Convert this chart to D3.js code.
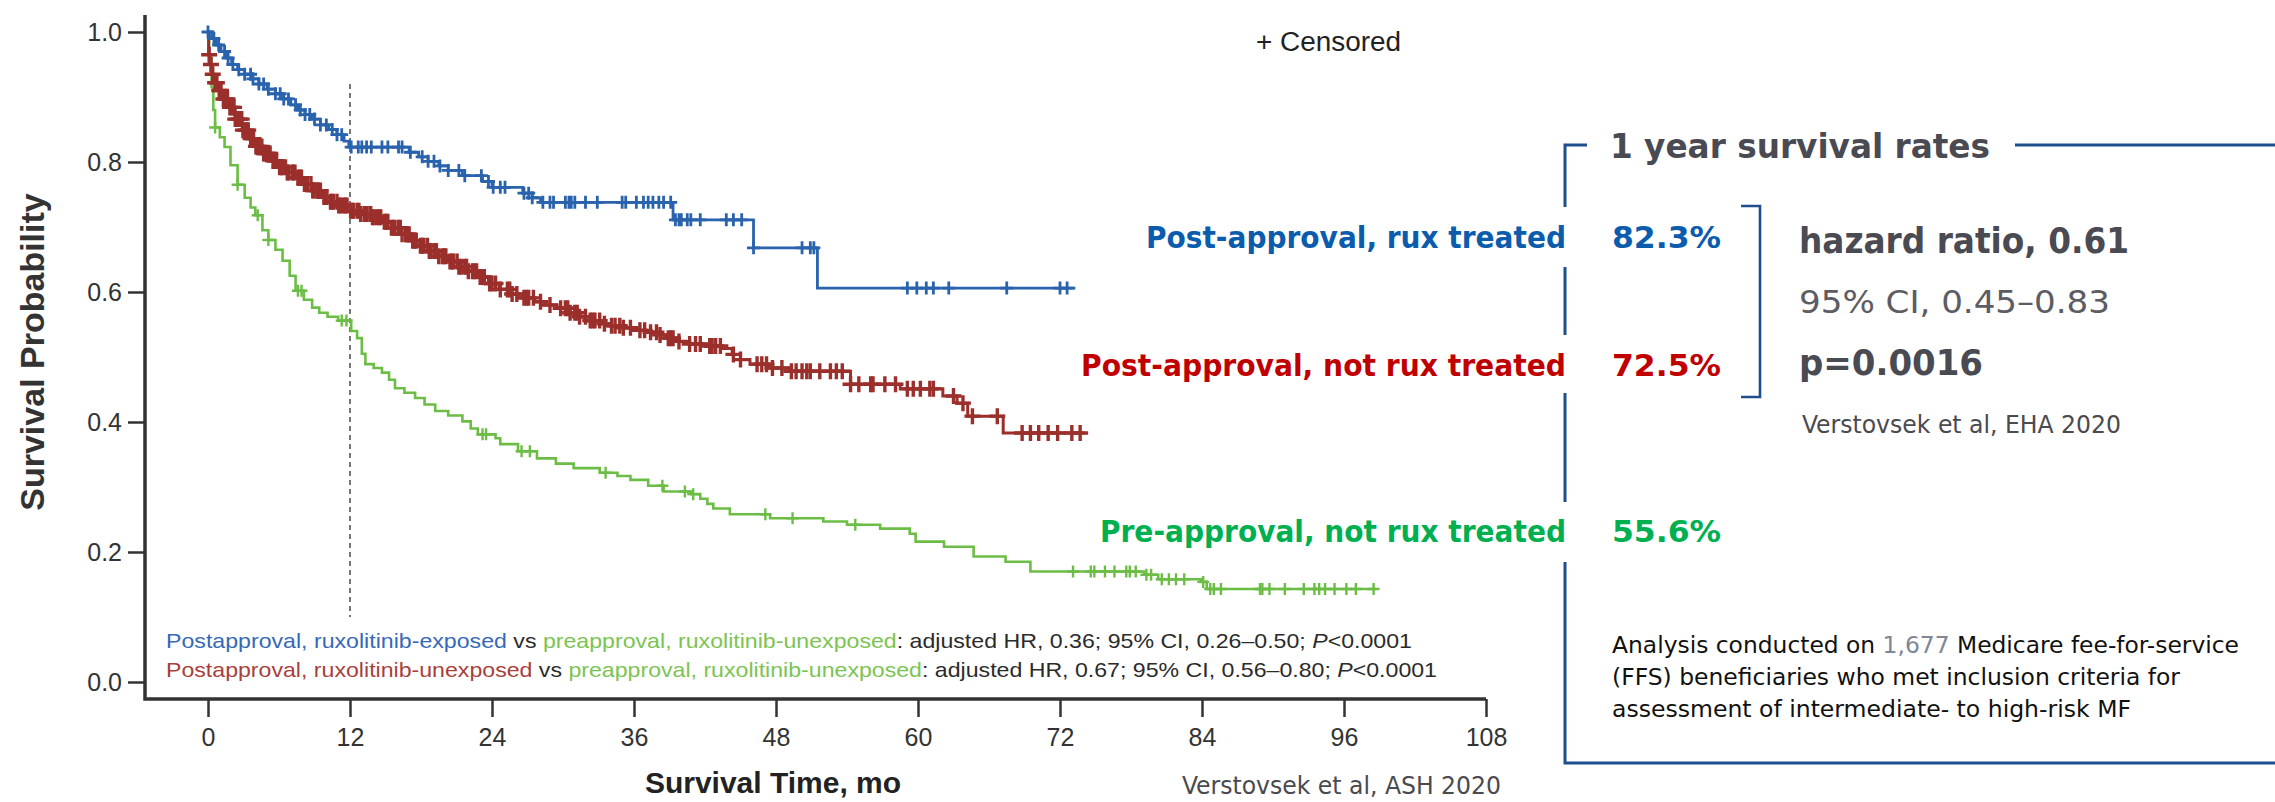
<!DOCTYPE html>
<html>
<head>
<meta charset="utf-8">
<script src="https://cdn.jsdelivr.net/npm/d3@7"></script>
<style>
  html, body { margin: 0; padding: 0; background: #ffffff; }
  svg { display: block; }
</style>
</head>
<body>
<svg id="chart" width="2275" height="802"></svg>
<script>
// ---- Kaplan–Meier data: [month, survival probability after the step] ----
const bluePostRux = [
  [0, 1.0], [0.3, 0.99], [0.7, 0.98], [1.1, 0.97], [1.6, 0.96], [2.0, 0.95], [2.5, 0.942],
  [3.1, 0.935], [3.7, 0.928], [4.3, 0.92], [5.0, 0.912], [5.7, 0.905], [6.3, 0.897], [7.0, 0.888],
  [7.6, 0.88], [8.2, 0.873], [8.8, 0.866], [9.5, 0.857], [10.2, 0.85], [10.9, 0.842], [11.5, 0.832],
  [11.9, 0.823], [17.0, 0.815], [17.8, 0.808], [18.6, 0.801], [19.5, 0.794], [20.3, 0.787],
  [21.5, 0.779], [23.2, 0.77], [24.0, 0.761], [26.6, 0.752], [27.4, 0.745], [28.1, 0.738],
  [39.3, 0.711], [46.1, 0.668], [51.5, 0.606]
];
const blueEnd = 73.3;
const blueCensored = [
  0.0, 0.5, 0.9, 1.4, 1.7, 2.1, 2.6, 3.1, 3.6, 3.8, 4.3, 4.7, 5.1, 5.7, 6.1, 6.4, 6.8, 7.4, 7.8,
  8.2, 8.6, 9.0, 9.5, 10.0, 10.5, 10.9, 11.3, 12.1, 12.7, 13.0, 13.4, 13.8, 14.7, 15.2, 16.1, 16.4,
  17.1, 18.1, 18.6, 19.1, 19.6, 20.3, 21.2, 21.7, 23.1, 23.7, 24.1, 24.7, 25.1, 26.7, 27.1, 27.4,
  28.3, 28.9, 29.2, 30.2, 30.5, 30.7, 31.0, 31.9, 32.9, 35.0, 35.3, 36.2, 36.8, 37.2, 37.6, 38.1,
  38.5, 39.1, 39.5, 39.8, 40.0, 40.5, 40.8, 41.6, 43.8, 44.4, 45.1, 46.1, 50.2, 50.9, 51.2,
  59.1, 59.9, 60.7, 61.3, 62.6, 67.5, 72.0, 72.6
];

const redPostNoRux = [
  [0, 1.0], [0.05, 0.965], [0.15, 0.95], [0.3, 0.935], [0.5, 0.922], [0.8, 0.91], [1.2, 0.897],
  [1.7, 0.884], [2.3, 0.866], [2.9, 0.849], [3.5, 0.836], [4.0, 0.824], [4.6, 0.813], [5.3, 0.802],
  [6.0, 0.792], [6.7, 0.784], [7.4, 0.776], [8.1, 0.766], [8.8, 0.756], [9.6, 0.746], [10.3, 0.739],
  [11.0, 0.733], [12.0, 0.725], [12.9, 0.72], [13.8, 0.715], [14.7, 0.708], [15.5, 0.699],
  [16.3, 0.689], [17.2, 0.679], [17.9, 0.671], [18.7, 0.663], [19.5, 0.655], [20.3, 0.647],
  [21.1, 0.639], [21.9, 0.632], [22.8, 0.623], [23.7, 0.613], [24.6, 0.604], [25.6, 0.597],
  [26.6, 0.591], [27.6, 0.585], [28.5, 0.58], [29.5, 0.575], [30.5, 0.568], [31.4, 0.562],
  [32.3, 0.556], [33.2, 0.551], [34.1, 0.548], [35.1, 0.545], [36.1, 0.541], [37.0, 0.538],
  [38.0, 0.534], [38.9, 0.529], [39.8, 0.524], [40.7, 0.52], [42.0, 0.517], [43.5, 0.513],
  [44.3, 0.504], [45.0, 0.496], [45.8, 0.489], [47.4, 0.483], [49.2, 0.478], [54.3, 0.458],
  [58.5, 0.451], [62.1, 0.44], [63.3, 0.429], [64.2, 0.409], [67.2, 0.383]
];
const redEnd = 74.1;
const redCensored = [
  0.1, 0.25, 0.4, 0.6, 0.75, 0.95, 1.1, 1.3, 1.5, 1.65, 1.85, 2.05, 2.2, 2.3, 2.5, 2.7, 2.85,
  2.95, 3.15, 3.3, 3.4, 3.6, 3.75, 3.85, 4.05, 4.2, 4.3, 4.55, 4.7, 4.8, 5.0, 5.15, 5.25, 5.5,
  5.65, 5.8, 6.05, 6.2, 6.3, 6.55, 6.7, 6.8, 7.1, 7.2, 7.35, 7.6, 7.75, 7.9, 8.15, 8.3, 8.4,
  8.7, 8.85, 8.95, 9.2, 9.35, 9.5, 9.8, 9.9, 10.05, 10.35, 10.5, 10.6, 10.9, 11.05, 11.2, 11.45,
  11.6, 11.75, 12.05, 12.2, 12.3, 12.6, 12.75, 12.9, 13.2, 13.3, 13.45, 13.75, 13.9, 14.05,
  14.3, 14.45, 14.6, 14.9, 15.05, 15.2, 15.5, 15.65, 15.8, 16.1, 16.25, 16.4, 16.7, 16.85,
  17.0, 17.3, 17.45, 17.6, 17.95, 18.1, 18.25, 18.55, 18.7, 18.85, 19.15, 19.3, 19.5, 19.8,
  19.95, 20.1, 20.45, 20.6, 20.75, 21.05, 21.2, 21.4, 21.7, 21.85, 22.0, 22.35, 22.5, 22.7,
  23.0, 23.15, 23.35, 23.8, 24.0, 24.3, 24.7, 25.3, 25.5, 25.7, 26.1, 26.7, 26.9, 27.1, 27.5,
  28.1, 28.9, 29.8, 30.2, 30.4, 30.6, 31.0, 31.2, 31.4, 31.9, 32.3, 32.5, 32.7, 33.1, 33.5,
  34.1, 34.4, 34.8, 35.1, 35.7, 36.5, 36.9, 37.4, 37.9, 38.2, 38.9, 39.1, 39.3, 39.8, 40.7,
  41.2, 41.6, 42.4, 42.6, 42.9, 43.3, 44.4, 45.0, 46.4, 46.8, 47.2, 47.7, 48.5, 49.3, 49.7,
  50.2, 50.6, 50.9, 51.7, 52.6, 53.1, 53.6, 54.3, 55.0, 56.0, 56.2, 57.2, 58.1, 59.1, 59.6,
  60.2, 61.0, 61.3, 63.0, 63.8, 64.6, 66.7, 68.8, 69.5, 70.2, 71.0, 71.8, 73.0, 73.7
];

const greenPreNoRux = [
  [0, 1.0], [0.1, 0.96], [0.3, 0.915], [0.45, 0.88], [0.6, 0.853], [1.0, 0.838], [1.4, 0.823],
  [1.9, 0.795], [2.5, 0.765], [3.1, 0.745], [3.6, 0.73], [4.0, 0.718], [4.6, 0.695], [5.1, 0.68],
  [5.7, 0.665], [6.3, 0.648], [6.9, 0.625], [7.4, 0.602], [8.1, 0.588], [8.8, 0.576], [9.4, 0.568],
  [10.1, 0.562], [11.0, 0.556], [12.1, 0.54], [12.6, 0.529], [13.0, 0.505], [13.3, 0.489],
  [14.0, 0.483], [14.7, 0.476], [15.3, 0.465], [15.8, 0.452], [16.6, 0.445], [17.5, 0.437],
  [18.3, 0.427], [19.2, 0.417], [20.3, 0.41], [21.5, 0.401], [22.2, 0.39], [22.8, 0.381],
  [24.3, 0.375], [24.7, 0.366], [26.2, 0.355], [27.8, 0.344], [29.4, 0.336], [30.9, 0.329],
  [33.1, 0.322], [34.6, 0.317], [35.7, 0.311], [37.2, 0.302], [38.5, 0.293], [40.8, 0.289],
  [41.6, 0.282], [42.2, 0.274], [42.7, 0.267], [44.1, 0.258], [47.5, 0.252], [52.0, 0.247],
  [54.0, 0.242], [56.8, 0.236], [59.3, 0.228], [59.8, 0.216], [62.2, 0.208], [64.7, 0.193],
  [67.4, 0.185], [69.5, 0.17], [79.1, 0.165], [80.3, 0.158], [83.9, 0.154], [84.4, 0.143]
];
const greenEnd = 98.7;
const greenCensored = [
  0.6, 2.5, 4.2, 5.1, 7.6, 7.9, 11.3, 11.7, 23.2, 23.5, 26.5, 27.2, 33.6, 38.4, 40.3, 41.0,
  47.1, 49.4, 54.7, 73.1, 74.6, 74.9, 75.8, 76.6, 77.6, 77.9, 78.4, 79.3, 79.7, 80.6, 81.2,
  81.8, 82.5, 84.1, 84.7, 85.0, 85.6, 88.9, 89.1, 89.7, 91.0, 92.6, 93.5, 93.9, 94.4, 95.2,
  96.2, 97.0, 98.5
];

// ---- Axis ticks ----
const monthTicks = [0, 12, 24, 36, 48, 60, 72, 84, 96, 108];
const probTicks = [0.0, 0.2, 0.4, 0.6, 0.8, 1.0];

// ---- Text content ----
const yTitle = "Survival Probability";
const xTitle = "Survival Time, mo";
const censorKey = "+ Censored";
const comparisonLines = [
  [["Postapproval, ruxolitinib-exposed", "blue"], [" vs ", "ink"], ["preapproval, ruxolitinib-unexposed", "green"],
   [": adjusted HR, 0.36; 95% CI, 0.26\u20130.50; ", "ink"], ["P", "inkItalic"], ["<0.0001", "ink"]],
  [["Postapproval, ruxolitinib-unexposed", "red"], [" vs ", "ink"], ["preapproval, ruxolitinib-unexposed", "green"],
   [": adjusted HR, 0.67; 95% CI, 0.56\u20130.80; ", "ink"], ["P", "inkItalic"], ["<0.0001", "ink"]]
];
const panelTitle = "1 year survival rates";
const groupNames = ["Post-approval, rux treated", "Post-approval, not rux treated", "Pre-approval, not rux treated"];
const oneYearRates = ["82.3%", "72.5%", "55.6%"];
const hrLines = ["hazard ratio, 0.61", "95% CI, 0.45\u20130.83", "p=0.0016"];
const ehaSource = "Verstovsek et al, EHA 2020";
const ashSource = "Verstovsek et al, ASH 2020";
const cohortNote = [
  [["Analysis conducted on ", "black"], ["1,677", "muted"], [" Medicare fee-for-service", "black"]],
  [["(FFS) beneficiaries who met inclusion criteria for", "black"]],
  [["assessment of intermediate- to high-risk MF", "black"]]
];

// ---- Styling ----
const colors = {
  blue: "#2a63ad", red: "#9b2f2b", green: "#6cbd45",
  legendBlue: "#3569b8", legendRed: "#a8403c", legendGreen: "#7cc452",
  ink: "#2b2b2b", axis: "#333333",
  labelBlue: "#0b5cad", labelRed: "#c00000", labelGreen: "#00b050",
  slate: "#4a4a52", slateLight: "#5c5c62", frame: "#1f4e8c", muted: "#7d8796"
};
const chartFont = "'Liberation Sans', Arial, sans-serif";
const panelFont = "'DejaVu Sans Condensed', 'DejaVu Sans', sans-serif";

const svg = d3.select("#chart");

// ---- Scales ----
const x = d3.scaleLinear().domain([0, 108]).range([208, 1486]);
const y = d3.scaleLinear().domain([0, 1]).range([682, 32]);
const axisLeftX = 145, axisBottomY = 699;

// ---- Axes ----
const gx = svg.append("g").attr("transform", `translate(0,${axisBottomY})`)
  .call(d3.axisBottom(x).tickValues(monthTicks).tickSize(18).tickSizeOuter(0).tickPadding(8));
gx.select(".domain").remove();
gx.selectAll(".tick line").attr("stroke", colors.axis).attr("stroke-width", 2.5);
gx.selectAll(".tick text").attr("font-family", chartFont).attr("font-size", 25)
  .attr("fill", colors.axis).attr("dy", "0.85em");

const gy = svg.append("g").attr("transform", `translate(${axisLeftX},0)`)
  .call(d3.axisLeft(y).tickValues(probTicks).tickFormat(d3.format(".1f")).tickSize(17).tickSizeOuter(0).tickPadding(6));
gy.select(".domain").remove();
gy.selectAll(".tick line").attr("stroke", colors.axis).attr("stroke-width", 2.5);
gy.selectAll(".tick text").attr("font-family", chartFont).attr("font-size", 25).attr("fill", colors.axis);

svg.append("path")
  .attr("d", `M${axisLeftX},15 V${axisBottomY} H${x(108)}`)
  .attr("fill", "none").attr("stroke", colors.axis).attr("stroke-width", 3.5);

// Axis titles
svg.append("text").attr("x", 773).attr("y", 793).attr("text-anchor", "middle")
  .attr("font-family", chartFont).attr("font-weight", "bold").attr("font-size", 30)
  .attr("fill", "#222").text(xTitle);
svg.append("text").attr("transform", "translate(44,352) rotate(-90)").attr("text-anchor", "middle")
  .attr("font-family", chartFont).attr("font-weight", "bold").attr("font-size", 34)
  .attr("fill", "#333").text(yTitle);

// One-year reference line
svg.append("line").attr("x1", x(12)).attr("x2", x(12)).attr("y1", y(0.92)).attr("y2", y(0.1))
  .attr("stroke", "#555").attr("stroke-width", 1.6).attr("stroke-dasharray", "5,4");

// ---- Survival curves ----
const stepLine = d3.line().x(d => x(d[0])).y(d => y(d[1])).curve(d3.curveStepAfter);
const survivalAt = (steps, t) => {
  const i = d3.bisector(d => d[0]).right(steps, t) - 1;
  return steps[Math.max(0, i)][1];
};
const series = [
  { steps: greenPreNoRux, end: greenEnd, censored: greenCensored, color: colors.green, arm: 6, line: 2.6, mark: 2.4 },
  { steps: redPostNoRux, end: redEnd, censored: redCensored, color: colors.red, arm: 8, line: 3, mark: 3.4 },
  { steps: bluePostRux, end: blueEnd, censored: blueCensored, color: colors.blue, arm: 6.5, line: 2.8, mark: 2.8 }
];
series.forEach(s => {
  const pts = s.steps.concat([[s.end, s.steps[s.steps.length - 1][1]]]);
  const g = svg.append("g");
  g.append("path").attr("d", stepLine(pts)).attr("fill", "none")
    .attr("stroke", s.color).attr("stroke-width", s.line).attr("stroke-linejoin", "miter");
  g.selectAll("path.cens").data(s.censored).join("path").attr("class", "cens")
    .attr("d", t => {
      const cx = x(t), cy = y(survivalAt(s.steps, t));
      return `M${cx - s.arm},${cy}H${cx + s.arm}M${cx},${cy - s.arm}V${cy + s.arm}`;
    })
    .attr("stroke", s.color).attr("stroke-width", s.mark).attr("fill", "none");
});

// Censor key
svg.append("text").attr("x", 1256).attr("y", 51).attr("font-family", chartFont)
  .attr("font-size", 27).attr("fill", "#222").attr("textLength", 145)
  .attr("lengthAdjust", "spacingAndGlyphs").text(censorKey);

// Comparison statements
const toneFill = { blue: colors.legendBlue, red: colors.legendRed, green: colors.legendGreen,
  ink: colors.ink, inkItalic: colors.ink };
const comparisonWidths = [1246, 1271];
comparisonLines.forEach((parts, i) => {
  const t = svg.append("text").attr("x", 166).attr("y", 648 + i * 29)
    .attr("font-family", chartFont).attr("font-size", 21);
  parts.forEach(([str, tone]) => {
    t.append("tspan").attr("fill", toneFill[tone])
      .attr("font-style", tone === "inkItalic" ? "italic" : null).text(str);
  });
  t.attr("textLength", comparisonWidths[i]).attr("lengthAdjust", "spacingAndGlyphs");
});

// Source of the plot
svg.append("text").attr("x", 1182).attr("y", 794).attr("font-family", panelFont)
  .attr("font-size", 24).attr("fill", "#4a4a4f").attr("textLength", 319)
  .attr("lengthAdjust", "spacingAndGlyphs").text(ashSource);

// ---- One-year summary panel ----
const frameX = 1565;
const rowBase = [248, 376, 542];
const frame = svg.append("g").attr("stroke", colors.frame).attr("stroke-width", 3).attr("fill", "none");
frame.append("path").attr("d", `M${frameX + 22},145 H${frameX} V207`);
frame.append("path").attr("d", `M${frameX},267 V335`);
frame.append("path").attr("d", `M${frameX},393 V502`);
frame.append("path").attr("d", `M${frameX},562 V763 H2275`);
frame.append("path").attr("d", `M2015,145 H2275`);

svg.append("text").attr("x", 1610).attr("y", 158).attr("font-family", panelFont)
  .attr("font-weight", "bold").attr("font-size", 34).attr("fill", colors.slate)
  .attr("textLength", 380).attr("lengthAdjust", "spacingAndGlyphs").text(panelTitle);

const groupColors = [colors.labelBlue, colors.labelRed, colors.labelGreen];
const groupWidths = [420, 485, 466];
groupNames.forEach((name, i) => {
  svg.append("text").attr("x", 1566).attr("y", rowBase[i]).attr("text-anchor", "end")
    .attr("font-family", panelFont).attr("font-weight", "bold").attr("font-size", 30)
    .attr("fill", groupColors[i]).attr("textLength", groupWidths[i])
    .attr("lengthAdjust", "spacingAndGlyphs").text(name);
  svg.append("text").attr("x", 1612).attr("y", rowBase[i])
    .attr("font-family", panelFont).attr("font-weight", "bold").attr("font-size", 30)
    .attr("fill", groupColors[i]).attr("textLength", 109)
    .attr("lengthAdjust", "spacingAndGlyphs").text(oneYearRates[i]);
});

// Bracket joining the two post-approval groups
svg.append("path").attr("d", "M1741,206 H1760 V397 H1741")
  .attr("fill", "none").attr("stroke", colors.frame).attr("stroke-width", 2.6);

const hrStyle = [
  { y: 253, size: 36, weight: "bold", fill: colors.slate, width: 330 },
  { y: 313, size: 32, weight: "normal", fill: colors.slateLight, width: 311 },
  { y: 375, size: 36, weight: "bold", fill: colors.slate, width: 184 }
];
hrLines.forEach((str, i) => {
  const st = hrStyle[i];
  svg.append("text").attr("x", 1799).attr("y", st.y).attr("font-family", panelFont)
    .attr("font-weight", st.weight).attr("font-size", st.size).attr("fill", st.fill)
    .attr("textLength", st.width).attr("lengthAdjust", "spacingAndGlyphs").text(str);
});
svg.append("text").attr("x", 1802).attr("y", 433).attr("font-family", panelFont)
  .attr("font-size", 25).attr("fill", "#4a4a4f").attr("textLength", 319)
  .attr("lengthAdjust", "spacingAndGlyphs").text(ehaSource);

const noteWidths = [627, 568, 519];
const noteFill = { black: "#111111", muted: colors.muted };
cohortNote.forEach((parts, i) => {
  const t = svg.append("text").attr("x", 1612).attr("y", 653 + i * 32)
    .attr("font-family", panelFont).attr("font-size", 23);
  parts.forEach(([str, tone]) => t.append("tspan").attr("fill", noteFill[tone]).text(str));
  t.attr("textLength", noteWidths[i]).attr("lengthAdjust", "spacingAndGlyphs");
});
</script>
</body>
</html>
